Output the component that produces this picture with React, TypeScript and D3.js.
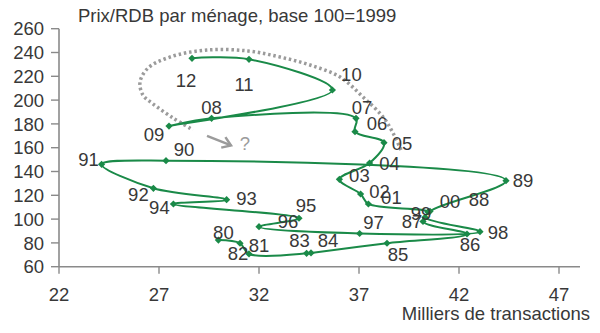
import React from "react";
import * as d3 from "d3";

const years = ["80","81","82","83","84","85","86","87","88","89","90","91","92","93","94","95","96","97","98","99","00","01","02","03","04","05","06","07","08","09","10","11","12"];
const transactions = [29.97,31.05,31.5,34.38,34.6,38.4,42.4,40.2,40.55,44.35,27.35,24.13,26.72,30.38,27.72,34.0,32.0,37.03,43.05,40.3,40.45,37.47,37.08,36.02,37.53,38.25,36.8,36.85,29.63,27.5,35.67,31.5,28.65];
const prixRdb = [82.4,79.7,70.7,71.2,71.6,79.7,87.5,98,106.5,132.3,149.1,146,125.9,116.3,112.7,100.7,93.6,87.9,89.4,101.5,106,112.7,121.1,133.4,147.1,164.2,173.5,184.7,184.7,178.2,208.5,234.3,235.1];

// label offsets (px, layout only)
const labelDx = [5,19,-11,-7,17,11,3,-11,49,17,18,-13,-15,20,-14,7,29,14,18,-4,22,23,19,20,20,18,22,6,0,-15,19,-5,-6];
const labelDy = [-8,2,-1,-13,-13,11,10,0,-12,0,-11,-5,6,-1,3.5,-13,-5,-11,1,-4,-11,-7,-3,-4,0,1,-8.5,-11,-11,8,-16,25,22];

const xTicks = [22,27,32,37,42,47];
const yTicks = [60,80,100,120,140,160,180,200,220,240,260];

// annotation "?" trend arc, in data units
const arcX = [39.1,38.7,38.2,37.2,36.05,34.55,33.05,31.45,29.4,27.55,26.45,26.05,26.2,26.65,27.7,28.7];
const arcY = [158.1,172.4,185.9,202.6,219.4,229.5,236.2,241.3,242.1,236.2,226.9,215.1,204.2,197.5,185,174.9];
const arrowFrom = [29.4,169.9];
const arrowTo = [30.6,161.9];
const questionAt = [31.3,163.8];

const W = 600, H = 333;
const FONT = "'Liberation Sans', Arial, sans-serif";
const TXT = "#383838";
const GREEN = "#1a8a48";
const AXIS = "#8a8a8a";
const FS = 18.5;

export default function App() {
  const x = d3.scaleLinear().domain([22, 48]).range([59, 579]);
  const y = d3.scaleLinear().domain([60, 260]).range([266.7, 28.7]);

  const pts: [number, number][] = transactions.map((t, i) => [x(t), y(prixRdb[i])]);
  const line = d3.line().curve(d3.curveCatmullRom.alpha(0.5));
  const arcPts: [number, number][] = arcX.map((v, i) => [x(v), y(arcY[i])]);

  const ax0 = x(arrowFrom[0]), ay0 = y(arrowFrom[1]);
  const ax1 = x(arrowTo[0]), ay1 = y(arrowTo[1]);
  const ang = Math.atan2(ay1 - ay0, ax1 - ax0);
  const hl = 10, ha = 0.6;
  const head = `M${ax1 - hl * Math.cos(ang - ha)},${ay1 - hl * Math.sin(ang - ha)}L${ax1},${ay1}L${ax1 - hl * Math.cos(ang + ha)},${ay1 - hl * Math.sin(ang + ha)}`;

  return (
    <svg width={W} height={H} style={{ position: "absolute", left: 0, top: 0, background: "#fff" }} fontFamily={FONT}>
      <text x={78} y={22} fontSize={FS} fill={TXT}>Prix/RDB par ménage, base 100=1999</text>

      {/* axes */}
      <line x1={59} x2={59} y1={y(260)} y2={y(60)} stroke={AXIS} strokeWidth={1.6} />
      <line x1={59} x2={580} y1={y(60)} y2={y(60)} stroke={AXIS} strokeWidth={1.6} />
      {yTicks.map((t) => (
        <g key={"y" + t}>
          <line x1={51} x2={59} y1={y(t)} y2={y(t)} stroke={AXIS} strokeWidth={1.4} />
          <text x={44} y={y(t)} dy="0.36em" textAnchor="end" fontSize={FS} fill={TXT}>{t}</text>
        </g>
      ))}
      {xTicks.map((t) => (
        <g key={"x" + t}>
          <line x1={x(t)} x2={x(t)} y1={y(60)} y2={y(60) + 7} stroke={AXIS} strokeWidth={1.4} />
          <text x={x(t)} y={301} textAnchor="middle" fontSize={FS} fill={TXT}>{t}</text>
        </g>
      ))}
      <text x={590} y={320} textAnchor="end" fontSize={FS} fill={TXT}>Milliers de transactions</text>

      {/* dotted trend annotation */}
      <path d={line(arcPts) || ""} fill="none" stroke="#9b9b9b" strokeWidth={3.5} strokeDasharray="2.5 2.8" />
      <line x1={ax0} y1={ay0} x2={ax1} y2={ay1} stroke="#9b9b9b" strokeWidth={2.5} />
      <path d={head} fill="none" stroke="#9b9b9b" strokeWidth={2.5} />
      <text x={x(questionAt[0])} y={y(questionAt[1])} dy="0.36em" textAnchor="middle" fontSize={FS} fill="#9b9b9b">?</text>

      {/* main series */}
      <path d={line(pts) || ""} fill="none" stroke={GREEN} strokeWidth={2} />
      {pts.map(([px, py], i) => (
        <path key={"m" + i} d={`M${px},${py - 3.6}L${px + 3.6},${py}L${px},${py + 3.6}L${px - 3.6},${py}Z`} fill={GREEN} />
      ))}
      {pts.map(([px, py], i) => (
        <text key={"l" + i} x={px + labelDx[i]} y={py + labelDy[i]} dy="0.36em" textAnchor="middle" fontSize={FS} fill={TXT}>{years[i]}</text>
      ))}
    </svg>
  );
}
